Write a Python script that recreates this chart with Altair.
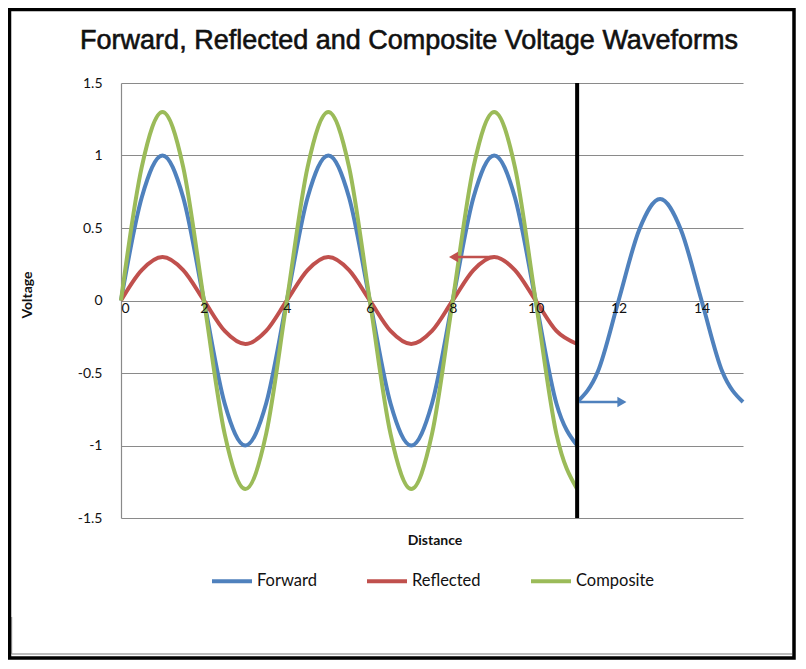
import altair as alt
import pandas as pd

# ---- data ----
dist = [0, 0.5, 1, 1.5, 2, 2.5, 3, 3.5, 4, 4.5, 5, 5.5, 6, 6.5, 7, 7.5, 8, 8.5, 9, 9.5, 10, 10.5, 11]
forward = [0, 0.71, 1, 0.71, 0, -0.71, -1, -0.71,
           0, 0.71, 1, 0.71, 0, -0.71, -1, -0.71,
           0, 0.71, 1, 0.71, 0, -0.71, -1]
reflected = [0, 0.21, 0.3, 0.21, 0, -0.21, -0.3, -0.21,
             0, 0.21, 0.3, 0.21, 0, -0.21, -0.3, -0.21,
             0, 0.21, 0.3, 0.21, 0, -0.21, -0.3]
composite = [0, 0.92, 1.3, 0.92, 0, -0.92, -1.3, -0.92,
             0, 0.92, 1.3, 0.92, 0, -0.92, -1.3, -0.92,
             0, 0.92, 1.3, 0.92, 0, -0.92, -1.3]
# transmitted part of the forward wave beyond the load (x > 11)
dist_after = [11, 11.5, 12, 12.5, 13, 13.5, 14, 14.5, 15]
forward_after = [-0.7, -0.49, 0, 0.49, 0.7, 0.49, 0, -0.49, -0.7]

series_names = ["Forward", "Reflected", "Composite"]
series_colors = ["#4F81BD", "#C0504D", "#9BBB59"]

x_ticks = [0, 2, 4, 6, 8, 10, 12, 14]
y_ticks = [-1.5, -1, -0.5, 0, 0.5, 1, 1.5]
load_position = [11]

title_text = "Forward, Reflected and Composite Voltage Waveforms"
x_title = "Distance"
y_title = "Voltage"

# arrows: (start, end, level)
refl_arrow = {"d": 9.0, "d2": 8.05, "v": 0.3, "head": 8.02}
fwd_arrow = {"d": 11.05, "d2": 12.0, "v": -0.7, "head": 12.08}

# ---- build table ----
rows = []
for d, f in zip(dist, forward):
    rows.append({"d": d, "v": f, "series": "Forward", "seg": "F1", "o": 0})
for d, f in zip(dist_after, forward_after):
    rows.append({"d": d, "v": f, "series": "Forward", "seg": "F2", "o": 0})
for d, r in zip(dist, reflected):
    rows.append({"d": d, "v": r, "series": "Reflected", "seg": "R", "o": 1})
for d, c in zip(dist, composite):
    rows.append({"d": d, "v": c, "series": "Composite", "seg": "C", "o": 2})
df = pd.DataFrame(rows)

FONT = "Lato"

def X(field="d"):
    return alt.X(f"{field}:Q",
                 scale=alt.Scale(domain=[0, 15], nice=False, zero=False),
                 axis=alt.Axis(values=x_ticks, title=None, orient="bottom",
                               offset=-217.5, domain=False, ticks=False, grid=False,
                               labelPadding=1, labelFont=FONT, labelFontSize=14,
                               labelColor="#111", labelExpr="toString(datum.value)",
                               zindex=1))

def Y(field="v"):
    return alt.Y(f"{field}:Q",
                 scale=alt.Scale(domain=[-1.5, 1.5], nice=False, zero=False),
                 axis=alt.Axis(values=y_ticks, title=None, domain=True,
                               domainColor="#8a8a8a", domainWidth=1.2,
                               ticks=False, grid=True, gridColor="#8a8a8a",
                               gridWidth=1.2, labelPadding=19, labelFont=FONT,
                               labelFontSize=14, labelColor="#111",
                               labelExpr="toString(datum.value)", zindex=0))

lines = alt.Chart(df).mark_line(strokeWidth=4, interpolate="monotone").encode(
    x=X(), y=Y(),
    color=alt.Color("series:N",
                    scale=alt.Scale(domain=series_names, range=series_colors),
                    legend=alt.Legend(orient="none", legendX=89, legendY=476,
                                      direction="horizontal", title=None,
                                      symbolType="stroke", symbolSize=1600,
                                      symbolStrokeWidth=4, labelFont=FONT,
                                      labelFontSize=16.5, labelColor="#111",
                                      labelOffset=3, columnPadding=42, padding=0)),
    detail="seg:N",
    order="o:Q",
)

load_df = pd.DataFrame({"d": load_position})
load_line = alt.Chart(load_df).mark_rule(color="black", strokeWidth=4).encode(x=X())

arr_df = pd.DataFrame([
    {"d": refl_arrow["d"], "d2": refl_arrow["d2"], "v": refl_arrow["v"], "head": refl_arrow["head"], "series": "Reflected", "shape": "triangle-left"},
    {"d": fwd_arrow["d"], "d2": fwd_arrow["d2"], "v": fwd_arrow["v"], "head": fwd_arrow["head"], "series": "Forward", "shape": "triangle-right"},
])
arrow_color = alt.Color("series:N", scale=alt.Scale(domain=series_names, range=series_colors), legend=None)
shafts = alt.Chart(arr_df).mark_rule(strokeWidth=2.5).encode(
    x=X(), x2="d2:Q", y=Y(), color=arrow_color)
heads = alt.Chart(arr_df).mark_point(filled=True, size=110, opacity=1).encode(
    x=X("head"), y=Y(), color=arrow_color,
    shape=alt.Shape("shape:N", scale=None, legend=None))

one = pd.DataFrame({"t": [0]})
title = alt.Chart(one).mark_text(text=title_text, font="Liberation Sans",
                                 fontSize=27, color="#111", stroke="#111",
                                 strokeWidth=0.6, align="center",
                                 baseline="middle").encode(
    x=alt.value(288), y=alt.value(-42))
xtitle = alt.Chart(one).mark_text(text=x_title, font=FONT, fontSize=14,
                                  fontWeight="bold", color="#111",
                                  align="center", baseline="middle").encode(
    x=alt.value(314), y=alt.value(458))
ytitle = alt.Chart(one).mark_text(text=y_title, font=FONT, fontSize=14,
                                  fontWeight="bold", color="#111", angle=270,
                                  align="center", baseline="middle").encode(
    x=alt.value(-93), y=alt.value(212))

frame = alt.Chart(one).mark_rect(fill=None, stroke="black", strokeWidth=3.5).encode(
    x=alt.value(-111.5), x2=alt.value(673), y=alt.value(-73.5), y2=alt.value(575))
inner_v = alt.Chart(one).mark_rule(color="#a8a8a8", strokeWidth=1.5).encode(
    x=alt.value(-109.5), y=alt.value(534), y2=alt.value(571))
inner_h = alt.Chart(one).mark_rule(color="#a8a8a8", strokeWidth=1.5).encode(
    x=alt.value(-109.5), x2=alt.value(671), y=alt.value(571))

chart = alt.layer(
    lines, load_line, shafts, heads, title, xtitle, ytitle, inner_v, inner_h, frame
).properties(
    width=622, height=435,
    autosize=alt.AutoSizeParams(type="none"),
    padding={"left": 113, "top": 75, "right": 55, "bottom": 143},
    background="white",
).configure_view(stroke=None)

chart.save("out.html", embed_options={"renderer": "svg", "actions": False})
